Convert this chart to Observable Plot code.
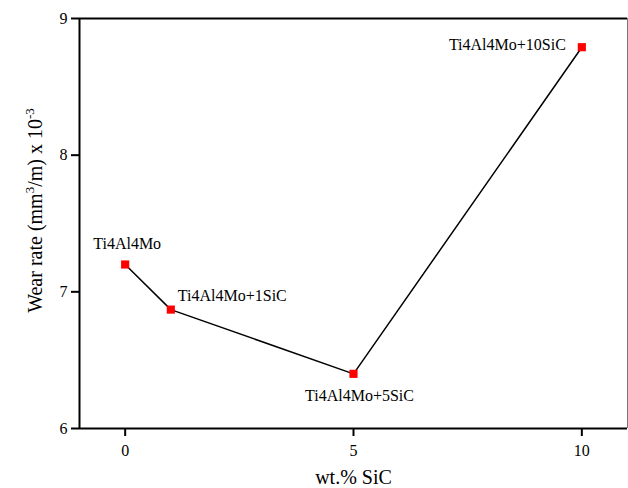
<!DOCTYPE html>
<html>
<head>
<meta charset="utf-8">
<script src="https://cdn.jsdelivr.net/npm/d3@7"></script>
<script src="https://cdn.jsdelivr.net/npm/@observablehq/plot@0.6"></script>
<style>
  html, body { margin: 0; padding: 0; background: #fff; }
  #chart svg { display: block; }
  #chart svg, #chart svg text { font-family: "Liberation Serif", "Times New Roman", serif; }
</style>
</head>
<body>
<div id="chart"></div>
<script>
// Data
const sicContent = [0, 1, 5, 10];
const wearRate = [7.2, 6.87, 6.40, 8.79];
const sampleLabels = ["Ti4Al4Mo", "Ti4Al4Mo+1SiC", "Ti4Al4Mo+5SiC", "Ti4Al4Mo+10SiC"];
const xTicks = [0, 5, 10];
const yTicks = [6, 7, 8, 9];
const xDomain = [-1, 11];
const yDomain = [6, 9];
const xTitle = "wt.% SiC";
const yTitle = "Wear rate (mm3/m) x 10-3";

// label placement (style only)
const labelDx = [2, 7, 6, -16];
const labelDy = [-21, -14, 22, -2];
const labelAnchor = ["middle", "start", "middle", "end"];

const rows = sicContent.map((x, i) => ({x, y: wearRate[i], label: sampleLabels[i], i}));
const font = "'Liberation Serif', 'Times New Roman', serif";

const chart = Plot.plot({
  width: 628,
  height: 488,
  marginLeft: 79,
  marginRight: 1,
  marginTop: 18,
  marginBottom: 60,
  style: {fontFamily: font, background: "#fff", color: "#000"},
  x: {domain: xDomain},
  y: {domain: yDomain},
  marks: [
    Plot.axisX({ticks: xTicks, tickFormat: "d", tickSize: 8, tickPadding: 8, fontSize: 16, fontFamily: font, strokeWidth: 2, label: null}),
    Plot.axisY({ticks: yTicks, tickFormat: "d", tickSize: 8, tickPadding: 4, fontSize: 16, fontFamily: font, strokeWidth: 2, label: null}),
    Plot.ruleY([yDomain[1]], {stroke: "#000", strokeWidth: 2}),
    Plot.ruleX([xDomain[1]], {stroke: "#777", strokeWidth: 1}),
    Plot.ruleY([yDomain[0]], {stroke: "#000", strokeWidth: 2}),
    Plot.ruleX([xDomain[0]], {stroke: "#000", strokeWidth: 2}),
    Plot.line(rows, {x: "x", y: "y", stroke: "#000", strokeWidth: 1.5}),
    Plot.dot(rows, {x: "x", y: "y", symbol: "square", r: 4.6, fill: "#ff0000", stroke: "none"}),
    ...rows.map((d) => Plot.text([d], {
      x: "x", y: "y", text: "label",
      dx: labelDx[d.i], dy: labelDy[d.i], textAnchor: labelAnchor[d.i],
      fontSize: 16, fontFamily: font, fill: "#000"
    })),
    Plot.text([xTitle], {frameAnchor: "bottom", dy: 49, fontSize: 20, fontFamily: font, fill: "#000", lineAnchor: "middle"}),
    Plot.text([yTitle], {frameAnchor: "left", dx: -44, dy: -13, rotate: -90, fontSize: 20, fontFamily: font, fill: "#000", lineAnchor: "middle", className: "ytitle"})
  ]
});
document.getElementById("chart").appendChild(chart);

// superscripts for y title
const yt = chart.querySelector(".ytitle text");
if (yt) {
  const ns = "http://www.w3.org/2000/svg";
  while (yt.firstChild) yt.removeChild(yt.firstChild);
  yt.setAttribute("text-anchor", "middle");
  const parts = [["Wear rate (mm", 0, 20], ["3", -8, 13], ["/m) x 10", 8, 20], ["-3", -8, 13]];
  for (const [t, dy, fs] of parts) {
    const ts = document.createElementNS(ns, "tspan");
    ts.textContent = t;
    ts.setAttribute("dy", dy);
    ts.setAttribute("font-size", fs);
    yt.appendChild(ts);
  }
}
</script>
</body>
</html>
